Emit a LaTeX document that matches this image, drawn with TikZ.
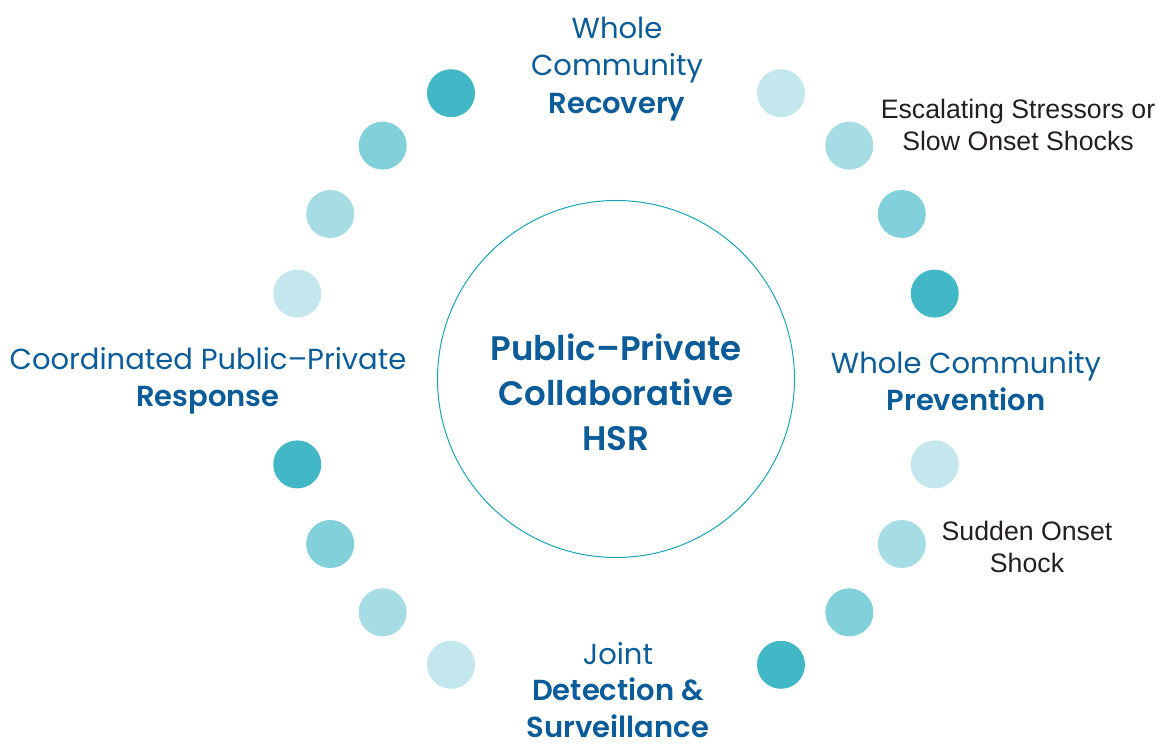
\documentclass[tikz,border=0pt]{standalone}
\usepackage{fontspec}
\usetikzlibrary{calc}
\setmainfont{Liberation Sans}
\newfontfamily\pop{Poppins}[BoldFont={Poppins SemiBold}]
\definecolor{dotA}{HTML}{42B8C7}
\definecolor{dotB}{HTML}{82D0D9}
\definecolor{dotC}{HTML}{A6DDE4}
\definecolor{dotD}{HTML}{C3E7EC}
\definecolor{ringc}{HTML}{1AA3B5}
\definecolor{bluet}{HTML}{0B5C99}
\definecolor{grayt}{HTML}{231F20}
\begin{document}
\begin{tikzpicture}[x=1pt,y=1pt,
  dot/.style={circle,minimum size=48pt,inner sep=0pt,fill=#1},
  bluelab/.style={text=bluet,align=center,font=\pop\fontsize{29}{37.5}\selectfont,inner sep=0pt},
  graylab/.style={text=grayt,align=center,font=\fontsize{26.7}{31.5}\selectfont,inner sep=0pt},
  centerlab/.style={text=bluet,align=center,font=\pop\bfseries\fontsize{34}{45}\selectfont,inner sep=0pt}]
\useasboundingbox (0,0) rectangle (1159,744);
\coordinate (c) at (616,365);
\node[circle,draw=ringc,line width=1pt,minimum size=357pt,inner sep=0pt] (hub) at (c) {};
\node[centerlab] (title) at (616,352) {Public–Private\\Collaborative\\HSR};
% dots
\foreach \a/\col/\n in {120/dotA/ul1,135/dotB/ul2,150/dotC/ul3,165/dotD/ul4,
  60/dotD/ur1,45/dotC/ur2,30/dotB/ur3,15/dotA/ur4,
  -15/dotD/lr1,-30/dotC/lr2,-45/dotB/lr3,-60/dotA/lr4,
  -165/dotA/ll1,-150/dotB/ll2,-135/dotC/ll3,-120/dotD/ll4}
  \node[dot=\col] (\n) at ($(c)+(\a:330)$) {};
\node[bluelab] (rec) at (617,675) {Whole\\Community\\\textbf{Recovery}};
\node[bluelab] (resp) at (208,363) {Coordinated Public–Private\\\textbf{Response}};
\node[bluelab] (prev) at (966,363) {Whole Community\\\textbf{Prevention}};
\node[bluelab,font=\pop\fontsize{29}{36.5}\selectfont] (det) at (618,54) {Joint\\\textbf{Detection \&}\\\textbf{Surveillance}};
\node[graylab] (esc) at (1018,619) {Escalating Stressors or\\Slow Onset Shocks};
\node[graylab] (sud) at (1027,197) {Sudden Onset\\Shock};
\end{tikzpicture}
\end{document}
